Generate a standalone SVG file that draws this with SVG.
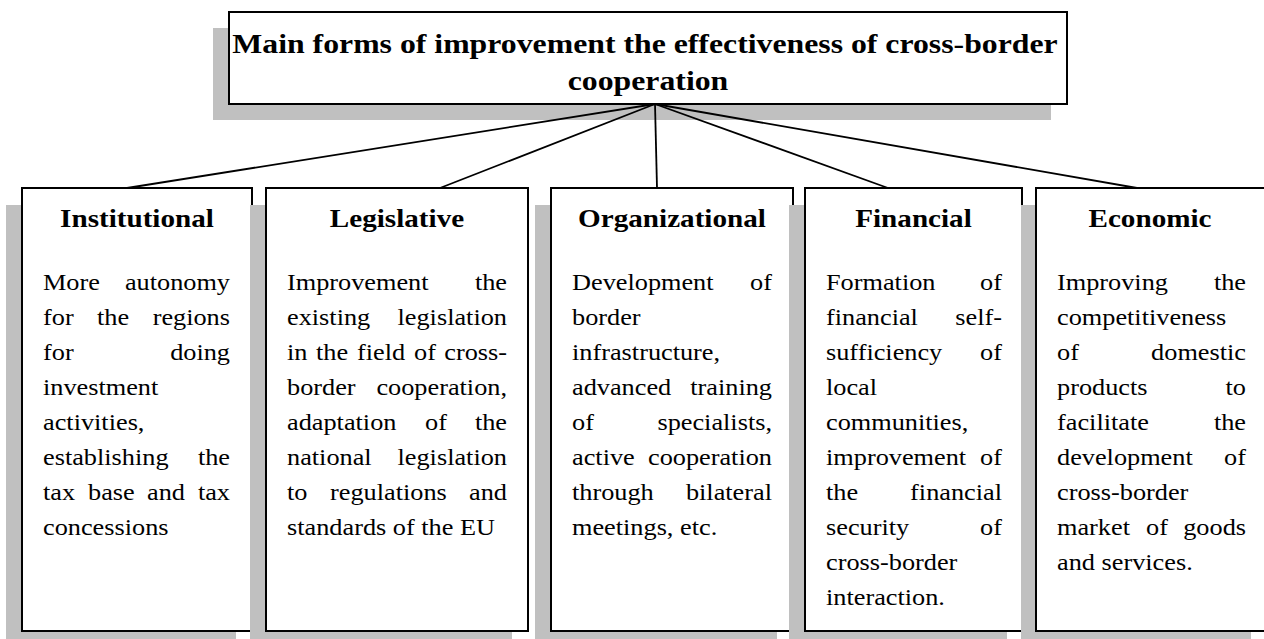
<svg xmlns="http://www.w3.org/2000/svg" width="1264" height="639" viewBox="0 0 1264 639">
<style>
.sh{fill:#c0c0c0}
.box{fill:#fff;stroke:#000;stroke-width:2}
.t{font-family:"Liberation Serif","Times New Roman",serif;font-size:23px;fill:#000}
.h{font-weight:bold;font-size:25.5px;text-anchor:middle}
.ti{font-weight:bold;font-size:27.8px;text-anchor:middle}
.e{text-anchor:end}
.ln{stroke:#000;stroke-width:1.8;fill:none}
</style>
<rect width="1264" height="639" fill="#fff"/>
<g id="title">
<rect class="sh" x="213" y="28" width="838" height="92"/>
<rect class="box" x="229" y="12" width="838" height="92"/>
<text class="t ti" transform="translate(645,53) scale(1.143,1)">Main forms of improvement the effectiveness of cross-border</text>
<text class="t ti" transform="translate(648,90) scale(1.143,1)">cooperation</text>
</g>
<g id="connectors">
<line class="ln" x1="655" y1="104" x2="127" y2="188"/>
<line class="ln" x1="655" y1="104" x2="440" y2="188"/>
<line class="ln" x1="655" y1="104" x2="657" y2="188"/>
<line class="ln" x1="655" y1="104" x2="888" y2="188"/>
<line class="ln" x1="655" y1="104" x2="1137" y2="188"/>
</g>
<g id="institutional">
<rect class="sh" x="6" y="205" width="230" height="443"/>
<rect class="box" x="22" y="188" width="230" height="443"/>
<text class="t h" transform="translate(137,227) scale(1.143,1)">Institutional</text>
<text class="t" transform="translate(43,290) scale(1.143,1)">More</text>
<text class="t e" transform="translate(230,290) scale(1.143,1)">autonomy</text>
<text class="t" transform="translate(43,325) scale(1.143,1)">for</text>
<text class="t" transform="translate(97,325) scale(1.143,1)">the</text>
<text class="t e" transform="translate(230,325) scale(1.143,1)">regions</text>
<text class="t" transform="translate(43,360) scale(1.143,1)">for</text>
<text class="t e" transform="translate(230,360) scale(1.143,1)">doing</text>
<text class="t" transform="translate(43,395) scale(1.143,1)">investment</text>
<text class="t" transform="translate(43,430) scale(1.143,1)">activities,</text>
<text class="t" transform="translate(43,465) scale(1.143,1)">establishing</text>
<text class="t e" transform="translate(230,465) scale(1.143,1)">the</text>
<text class="t" transform="translate(43,500) scale(1.143,1)">tax</text>
<text class="t" transform="translate(88,500) scale(1.143,1)">base</text>
<text class="t" transform="translate(147,500) scale(1.143,1)">and</text>
<text class="t e" transform="translate(230,500) scale(1.143,1)">tax</text>
<text class="t" transform="translate(43,535) scale(1.143,1)">concessions</text>
</g>
<g id="legislative">
<rect class="sh" x="250" y="205" width="262" height="443"/>
<rect class="box" x="266" y="188" width="262" height="443"/>
<text class="t h" transform="translate(397,227) scale(1.143,1)">Legislative</text>
<text class="t" transform="translate(287,290) scale(1.143,1)">Improvement</text>
<text class="t e" transform="translate(507,290) scale(1.143,1)">the</text>
<text class="t" transform="translate(287,325) scale(1.143,1)">existing</text>
<text class="t e" transform="translate(507,325) scale(1.143,1)">legislation</text>
<text class="t" transform="translate(287,360) scale(1.143,1)">in</text>
<text class="t" transform="translate(316,360) scale(1.143,1)">the</text>
<text class="t" transform="translate(357,360) scale(1.143,1)">field</text>
<text class="t" transform="translate(414,360) scale(1.143,1)">of</text>
<text class="t e" transform="translate(507,360) scale(1.143,1)">cross-</text>
<text class="t" transform="translate(287,395) scale(1.143,1)">border</text>
<text class="t e" transform="translate(507,395) scale(1.143,1)">cooperation,</text>
<text class="t" transform="translate(287,430) scale(1.143,1)">adaptation</text>
<text class="t" transform="translate(425,430) scale(1.143,1)">of</text>
<text class="t e" transform="translate(507,430) scale(1.143,1)">the</text>
<text class="t" transform="translate(287,465) scale(1.143,1)">national</text>
<text class="t e" transform="translate(507,465) scale(1.143,1)">legislation</text>
<text class="t" transform="translate(287,500) scale(1.143,1)">to</text>
<text class="t" transform="translate(330,500) scale(1.143,1)">regulations</text>
<text class="t e" transform="translate(507,500) scale(1.143,1)">and</text>
<text class="t" transform="translate(287,535) scale(1.143,1)">standards of the EU</text>
</g>
<g id="organizational">
<rect class="sh" x="535" y="205" width="242" height="443"/>
<rect class="box" x="551" y="188" width="242" height="443"/>
<text class="t h" transform="translate(672,227) scale(1.143,1)">Organizational</text>
<text class="t" transform="translate(572,290) scale(1.143,1)">Development</text>
<text class="t e" transform="translate(772,290) scale(1.143,1)">of</text>
<text class="t" transform="translate(572,325) scale(1.143,1)">border</text>
<text class="t" transform="translate(572,360) scale(1.143,1)">infrastructure,</text>
<text class="t" transform="translate(572,395) scale(1.143,1)">advanced</text>
<text class="t e" transform="translate(772,395) scale(1.143,1)">training</text>
<text class="t" transform="translate(572,430) scale(1.143,1)">of</text>
<text class="t e" transform="translate(772,430) scale(1.143,1)">specialists,</text>
<text class="t" transform="translate(572,465) scale(1.143,1)">active</text>
<text class="t e" transform="translate(772,465) scale(1.143,1)">cooperation</text>
<text class="t" transform="translate(572,500) scale(1.143,1)">through</text>
<text class="t e" transform="translate(772,500) scale(1.143,1)">bilateral</text>
<text class="t" transform="translate(572,535) scale(1.143,1)">meetings, etc.</text>
</g>
<g id="financial">
<rect class="sh" x="789" y="205" width="218" height="443"/>
<rect class="box" x="805" y="188" width="217" height="443"/>
<text class="t h" transform="translate(913.5,227) scale(1.143,1)">Financial</text>
<text class="t" transform="translate(826,290) scale(1.143,1)">Formation</text>
<text class="t e" transform="translate(1002,290) scale(1.143,1)">of</text>
<text class="t" transform="translate(826,325) scale(1.143,1)">financial</text>
<text class="t e" transform="translate(1002,325) scale(1.143,1)">self-</text>
<text class="t" transform="translate(826,360) scale(1.143,1)">sufficiency</text>
<text class="t e" transform="translate(1002,360) scale(1.143,1)">of</text>
<text class="t" transform="translate(826,395) scale(1.143,1)">local</text>
<text class="t" transform="translate(826,430) scale(1.143,1)">communities,</text>
<text class="t" transform="translate(826,465) scale(1.143,1)">improvement</text>
<text class="t e" transform="translate(1002,465) scale(1.143,1)">of</text>
<text class="t" transform="translate(826,500) scale(1.143,1)">the</text>
<text class="t e" transform="translate(1002,500) scale(1.143,1)">financial</text>
<text class="t" transform="translate(826,535) scale(1.143,1)">security</text>
<text class="t e" transform="translate(1002,535) scale(1.143,1)">of</text>
<text class="t" transform="translate(826,570) scale(1.143,1)">cross-border</text>
<text class="t" transform="translate(826,605) scale(1.143,1)">interaction.</text>
</g>
<g id="economic">
<rect class="sh" x="1021" y="205" width="230" height="443"/>
<rect class="box" x="1036" y="188" width="231" height="443"/>
<text class="t h" transform="translate(1150,227) scale(1.143,1)">Economic</text>
<text class="t" transform="translate(1057,290) scale(1.143,1)">Improving</text>
<text class="t e" transform="translate(1246,290) scale(1.143,1)">the</text>
<text class="t" transform="translate(1057,325) scale(1.143,1)">competitiveness</text>
<text class="t" transform="translate(1057,360) scale(1.143,1)">of</text>
<text class="t e" transform="translate(1246,360) scale(1.143,1)">domestic</text>
<text class="t" transform="translate(1057,395) scale(1.143,1)">products</text>
<text class="t e" transform="translate(1246,395) scale(1.143,1)">to</text>
<text class="t" transform="translate(1057,430) scale(1.143,1)">facilitate</text>
<text class="t e" transform="translate(1246,430) scale(1.143,1)">the</text>
<text class="t" transform="translate(1057,465) scale(1.143,1)">development</text>
<text class="t e" transform="translate(1246,465) scale(1.143,1)">of</text>
<text class="t" transform="translate(1057,500) scale(1.143,1)">cross-border</text>
<text class="t" transform="translate(1057,535) scale(1.143,1)">market</text>
<text class="t" transform="translate(1146,535) scale(1.143,1)">of</text>
<text class="t e" transform="translate(1246,535) scale(1.143,1)">goods</text>
<text class="t" transform="translate(1057,570) scale(1.143,1)">and services.</text>
</g>
</svg>
